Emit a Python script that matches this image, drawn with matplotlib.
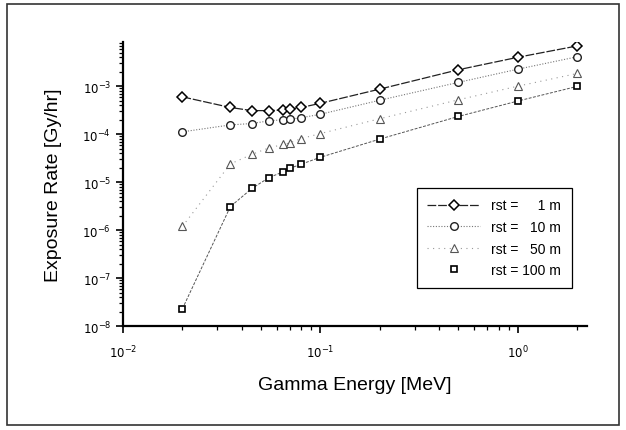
import matplotlib
matplotlib.use("Agg")
import matplotlib.pyplot as plt
from matplotlib.patches import Rectangle
from matplotlib.lines import Line2D
from matplotlib.ticker import LogLocator, NullFormatter, FixedLocator
import numpy as np

plt.rcParams['font.family'] = ['Liberation Sans', 'DejaVu Sans']

energy = [0.02, 0.035, 0.045, 0.055, 0.065, 0.07, 0.08, 0.1, 0.2, 0.5, 1.0, 2.0]
rate_1m = [6.0e-4, 3.6e-4, 3.1e-4, 3.1e-4, 3.2e-4, 3.3e-4, 3.6e-4, 4.4e-4, 8.7e-4, 2.2e-3, 4.0e-3, 6.9e-3]
rate_10m = [1.12e-4, 1.56e-4, 1.67e-4, 1.9e-4, 2.0e-4, 2.05e-4, 2.2e-4, 2.6e-4, 5.1e-4, 1.2e-3, 2.26e-3, 4.1e-3]
rate_50m = [1.2e-6, 2.4e-5, 3.8e-5, 5.2e-5, 6.1e-5, 6.6e-5, 8.1e-5, 1.03e-4, 2.1e-4, 5.2e-4, 1.0e-3, 1.84e-3]
rate_100m = [2.3e-8, 3.1e-6, 7.4e-6, 1.25e-5, 1.65e-5, 1.94e-5, 2.37e-5, 3.3e-5, 7.9e-5, 2.34e-4, 4.9e-4, 9.9e-4]
labels = ["rst =     1 m", "rst =   10 m", "rst =   50 m", "rst = 100 m"]

fig = plt.figure(figsize=(6.26, 4.31), dpi=100)
ax = fig.add_axes([0.1965, 0.241, 0.7415, 0.659])

styles = [
    dict(color='#222222', lw=0.9, ls=(0, (7, 1.5)), marker='D', ms=5, mfc='white', mec='black', mew=1.1),
    dict(color='#777777', lw=0.8, ls=(0, (1, 1.5)), marker='o', ms=5.5, mfc='white', mec='#222222', mew=1.0),
    dict(color='#999999', lw=0.8, ls=(0, (1, 4)), marker='^', ms=5.5, mfc='white', mec='#555555', mew=0.8),
    dict(color='#555555', lw=0.7, ls=(0, (3, 1.5)), marker='s', ms=5, mfc='white', mec='black', mew=1.2),
]
for rates, st in zip([rate_1m, rate_10m, rate_50m, rate_100m], styles):
    ax.plot(energy, rates, **st)

ax.set_xscale('log')
ax.set_yscale('log')
ax.set_xlim(1e-2, 2.25)
ax.set_ylim(1e-8, 8.3e-3)

ax.spines['top'].set_visible(False)
ax.spines['right'].set_visible(False)
ax.spines['left'].set_linewidth(1.6)
ax.spines['bottom'].set_linewidth(1.6)

ax.xaxis.set_major_locator(FixedLocator([1e-2, 1e-1, 1e0]))
ax.xaxis.set_minor_locator(LogLocator(base=10, subs=np.arange(2, 10)))
ax.xaxis.set_minor_formatter(NullFormatter())
ax.set_xticklabels([r'$10^{-2}$', r'$10^{-1}$', r'$10^{0}$'])
ax.yaxis.set_major_locator(FixedLocator([1e-8, 1e-7, 1e-6, 1e-5, 1e-4, 1e-3]))
ax.set_yticklabels([r'$10^{-8}$', r'$10^{-7}$', r'$10^{-6}$', r'$10^{-5}$', r'$10^{-4}$', r'$10^{-3}$'])
ax.yaxis.set_minor_locator(LogLocator(base=10, subs=np.arange(2, 10)))
ax.yaxis.set_minor_formatter(NullFormatter())
ax.tick_params(which='major', length=5, width=1.2, labelsize=8.5)
ax.tick_params(which='minor', length=3, width=0.9)
ax.tick_params(axis='x', pad=8)

ax.set_xlabel('Gamma Energy [MeV]', fontsize=14, labelpad=11)
ax.set_ylabel('Exposure Rate [Gy/hr]', fontsize=14, labelpad=15)

# legend: the 100 m entry shows only its marker
handles = []
for i, st in enumerate(styles):
    st = dict(st)
    if i == 3:
        st['ls'] = 'none'
    handles.append(Line2D([], [], **st))
leg = ax.legend(handles, labels, loc='upper left', bbox_to_anchor=(417 / 626, 1 - 189 / 431),
                bbox_transform=fig.transFigure, fontsize=10, fancybox=False,
                edgecolor='black', framealpha=1, handlelength=3.8, borderaxespad=0,
                borderpad=0.75, labelspacing=0.55)
leg.get_frame().set_linewidth(0.9)

fig.add_artist(Rectangle((7 / 626, 5 / 431), 612 / 626, 421 / 431,
                         transform=fig.transFigure, fill=False, lw=1.2, ec='#333333'))

fig.savefig('out.png', dpi=100)
